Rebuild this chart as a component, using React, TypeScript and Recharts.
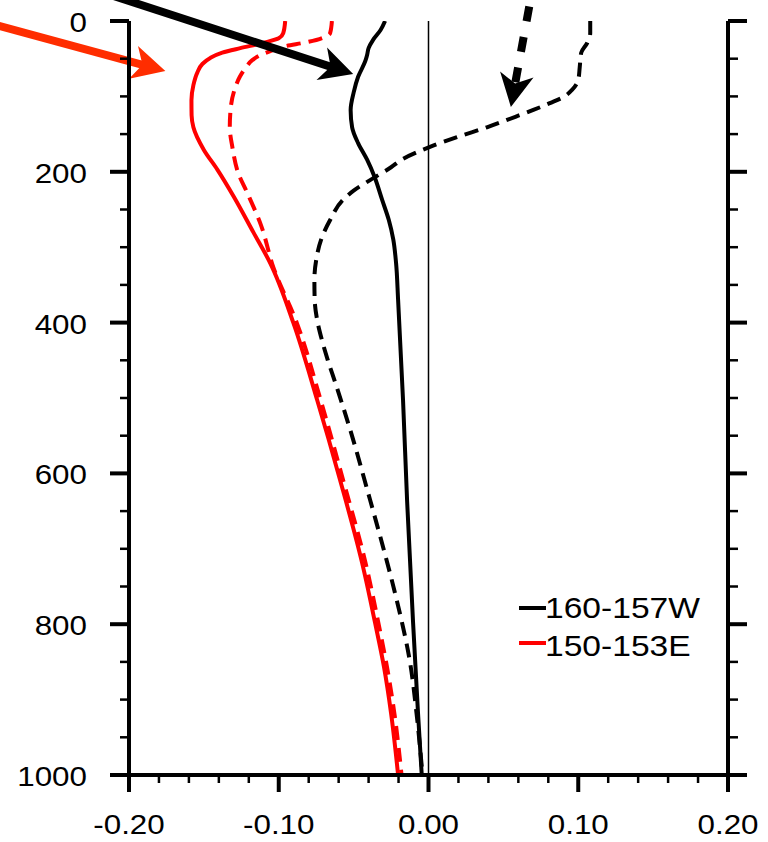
import React from 'react';
import { LineChart, Line, XAxis, YAxis, ReferenceLine, Legend } from 'recharts';

// ---- data: [depth, value] ----
const blackSolid: [number, number][] = [
  [0, -0.029], [12, -0.032], [25, -0.037], [36, -0.04], [45, -0.041], [52, -0.042],
  [74, -0.047], [95, -0.05], [118, -0.052], [141, -0.051], [162, -0.047], [184, -0.041],
  [207, -0.036], [237, -0.031], [264, -0.0265], [290, -0.0235], [320, -0.0217], [370, -0.0203],
  [503, -0.017], [636, -0.0143], [798, -0.0103], [918, -0.007], [1000, -0.0045],
];

const blackDashed: [number, number][] = [
  [0, 0.108], [16, 0.108], [29, 0.106], [42, 0.102], [61, 0.101], [78, 0.1], [91, 0.096],
  [101, 0.09], [109, 0.081], [118, 0.07], [127, 0.058], [141, 0.039], [154, 0.019],
  [167, 0.001], [184, -0.018], [194, -0.025], [211, -0.039], [225, -0.05], [237, -0.057],
  [264, -0.0657], [290, -0.0717], [317, -0.075], [343, -0.0762], [370, -0.076], [397, -0.0743],
  [423, -0.0712], [450, -0.0672], [480, -0.0622], [546, -0.0517], [626, -0.0403], [698, -0.0303],
  [764, -0.0217], [851, -0.0123], [918, -0.008], [1000, -0.004],
];

const redSolid: [number, number][] = [
  [0, -0.0957], [16, -0.097], [23, -0.1], [29, -0.1103], [36, -0.1257], [42, -0.1377],
  [49, -0.1457], [57, -0.151], [68, -0.1543], [85, -0.157], [105, -0.1583], [125, -0.1582],
  [141, -0.157], [171, -0.15], [197, -0.141], [233, -0.13], [280, -0.117], [321, -0.1057],
  [400, -0.0903], [503, -0.0743], [609, -0.059], [719, -0.0443], [798, -0.0357], [857, -0.0297],
  [918, -0.025], [1000, -0.0203],
];

const redDashed: [number, number][] = [
  [0, -0.0645], [16, -0.0657], [22, -0.0703], [28, -0.081], [34, -0.097], [40, -0.1057],
  [45, -0.112], [52, -0.1177], [61, -0.1217], [74, -0.126], [88, -0.129], [114, -0.132],
  [141, -0.1327], [167, -0.131], [202, -0.127], [228, -0.121], [270, -0.112], [326, -0.1037],
  [400, -0.088], [503, -0.072], [609, -0.057], [719, -0.042], [798, -0.0335], [857, -0.0277],
  [918, -0.0228], [1000, -0.018],
];

// annotation arrows: [startValue, startDepth, tipValue, tipDepth]
const arrowRed = [-0.289, 5.3, -0.1757, 66.3];
const arrowBlack = [-0.2123, -34.5, -0.0503, 70.3];
const arrowBlackDashed = [0.071, -59.7, 0.055, 114];

// ---- ticks ----
const depthTicks = [0, 50, 100, 150, 200, 250, 300, 350, 400, 450, 500, 550, 600, 650, 700, 750, 800, 850, 900, 950, 1000];
const depthMajor = [0, 200, 400, 600, 800, 1000];
const valueTicks = [-0.2, -0.18, -0.16, -0.14, -0.12, -0.1, -0.08, -0.06, -0.04, -0.02, 0, 0.02, 0.04, 0.06, 0.08, 0.1, 0.12, 0.14, 0.16, 0.18, 0.2];
const valueMajor = [-0.2, -0.1, 0, 0.1, 0.2];

const legendItems = [
  { label: '160-157W', color: '#000000' },
  { label: '150-153E', color: '#ff0000' },
];

const FONT = '"Liberation Sans", Arial, Helvetica, sans-serif';
const SX = 1.12;
const LW = 4;

const toRows = (s: [number, number][]) => s.map(([d, v]) => ({ d, v }));
const isMajor = (v: number, arr: number[]) => arr.some((m) => Math.abs(m - v) < 1e-9);

const LeftTick = (props: any) => {
  const { x, y, payload } = props;
  const major = isMajor(payload.value, depthMajor);
  return (
    <g>
      <line x1={x} x2={x - (major ? 19 : 9)} y1={y} y2={y} stroke="#000" strokeWidth={major ? 4 : 2.5} />
      {major && (
        <text transform={`translate(${x - 42},${y + 11}) scale(${SX},1)`} textAnchor="end" fontSize={28} fontFamily={FONT} fill="#000">
          {payload.value}
        </text>
      )}
    </g>
  );
};

const RightTick = (props: any) => {
  const { x, y, payload } = props;
  const major = isMajor(payload.value, depthMajor);
  return <line x1={x} x2={x + (major ? 19 : 10)} y1={y} y2={y} stroke="#000" strokeWidth={major ? 4 : 2.5} />;
};

const BottomTick = (props: any) => {
  const { x, y, payload } = props;
  const major = isMajor(payload.value, valueMajor);
  const v = Math.abs(payload.value) < 1e-9 ? 0 : payload.value;
  return (
    <g>
      <line x1={x} x2={x} y1={y} y2={y + (major ? 17 : 8)} stroke="#000" strokeWidth={major ? 4 : 2.5} />
      {major && (
        <text transform={`translate(${x},${y + 59}) scale(${SX},1)`} textAnchor="middle" fontSize={28} fontFamily={FONT} fill="#000">
          {v.toFixed(2)}
        </text>
      )}
    </g>
  );
};

const makeArrow = (color: string, dashed: boolean) => (props: any) => {
  const { x1, y1, x2, y2 } = props;
  const dx = x2 - x1;
  const dy = y2 - y1;
  const len = Math.hypot(dx, dy) || 1;
  const ux = dx / len;
  const uy = dy / len;
  const nx = -uy;
  const ny = ux;
  const L = 33;
  const W = 17;
  const notch = 0.72 * L;
  const bx = x2 - ux * L;
  const by = y2 - uy * L;
  const pts = [
    [bx + nx * W, by + ny * W],
    [x2, y2],
    [bx - nx * W, by - ny * W],
    [x2 - ux * notch, y2 - uy * notch],
  ]
    .map((p) => p.join(','))
    .join(' ');
  const sx = x2 - ux * (notch - 3);
  const sy = y2 - uy * (notch - 3);
  return (
    <g>
      <line x1={x1} y1={y1} x2={sx} y2={sy} stroke={color} strokeWidth={8} strokeDasharray={dashed ? '15 16' : undefined} />
      <polygon points={pts} fill={color} />
    </g>
  );
};

const renderLegend = () => (
  <svg width={200} height={90} style={{ display: 'block' }}>
    {legendItems.map((it, i) => (
      <g key={it.label}>
        <line x1={4} x2={31} y1={23 + i * 35} y2={23 + i * 35} stroke={it.color} strokeWidth={4} />
        <text transform={`translate(30,${33 + i * 38}) scale(${SX},1)`} fontSize={30} fontFamily={FONT} fill="#000">
          {it.label}
        </text>
      </g>
    ))}
  </svg>
);

const seg = (a: number[]) => [
  { x: a[0], y: a[1] },
  { x: a[2], y: a[3] },
];

export default function App() {
  return (
    <div style={{ position: 'absolute', left: 0, top: 0, width: 768, height: 842, background: '#fff' }}>
      <LineChart width={768} height={842} layout="vertical" margin={{ top: 21, right: 20, bottom: 7, left: 69 }}>
        <XAxis
          xAxisId="b"
          type="number"
          domain={[-0.2, 0.2]}
          allowDataOverflow
          ticks={valueTicks}
          interval={0}
          height={60}
          tickSize={0}
          tickMargin={0}
          tick={<BottomTick />}
          axisLine={{ stroke: '#000', strokeWidth: 4 }}
          tickLine={false}
        />
        <XAxis
          xAxisId="t"
          orientation="top"
          type="number"
          domain={[-0.2, 0.2]}
          allowDataOverflow
          height={0}
          tick={false}
          tickLine={false}
          axisLine={{ stroke: '#000', strokeWidth: 4 }}
        />
        <YAxis
          yAxisId="l"
          type="number"
          dataKey="d"
          domain={[0, 1000]}
          allowDataOverflow
          ticks={depthTicks}
          interval={0}
          width={60}
          tickSize={0}
          tickMargin={0}
          tick={<LeftTick />}
          axisLine={{ stroke: '#000', strokeWidth: 4 }}
          tickLine={false}
        />
        <YAxis
          yAxisId="r"
          orientation="right"
          type="number"
          dataKey="d"
          domain={[0, 1000]}
          allowDataOverflow
          ticks={depthTicks}
          interval={0}
          width={20}
          tickSize={0}
          tickMargin={0}
          tick={<RightTick />}
          axisLine={{ stroke: '#000', strokeWidth: 4 }}
          tickLine={false}
        />
        <ReferenceLine xAxisId="b" yAxisId="l" x={0} stroke="#000" strokeWidth={1.5} />
        <Line xAxisId="b" yAxisId="l" data={toRows(blackDashed)} dataKey="v" type="monotoneY" stroke="#000" strokeWidth={LW} strokeDasharray="14 8" dot={false} isAnimationActive={false} />
        <Line xAxisId="b" yAxisId="l" data={toRows(blackSolid)} dataKey="v" type="monotoneY" stroke="#000" strokeWidth={LW} dot={false} isAnimationActive={false} />
        <Line xAxisId="b" yAxisId="l" data={toRows(redDashed)} dataKey="v" type="monotoneY" stroke="#ff0000" strokeWidth={LW} strokeDasharray="14 8" dot={false} isAnimationActive={false} />
        <Line xAxisId="b" yAxisId="l" data={toRows(redSolid)} dataKey="v" type="monotoneY" stroke="#ff0000" strokeWidth={LW} dot={false} isAnimationActive={false} />
        <ReferenceLine xAxisId="b" yAxisId="l" segment={seg(arrowRed)} ifOverflow="visible" shape={makeArrow('#ff2d00', false)} />
        <ReferenceLine xAxisId="b" yAxisId="l" segment={seg(arrowBlack)} ifOverflow="visible" shape={makeArrow('#000000', false)} />
        <ReferenceLine xAxisId="b" yAxisId="l" segment={seg(arrowBlackDashed)} ifOverflow="visible" shape={makeArrow('#000000', true)} />
        <Legend
          layout="vertical"
          align="center"
          verticalAlign="middle"
          content={renderLegend}
          wrapperStyle={{ left: 515, top: 585, width: 200, height: 90 }}
        />
      </LineChart>
    </div>
  );
}
